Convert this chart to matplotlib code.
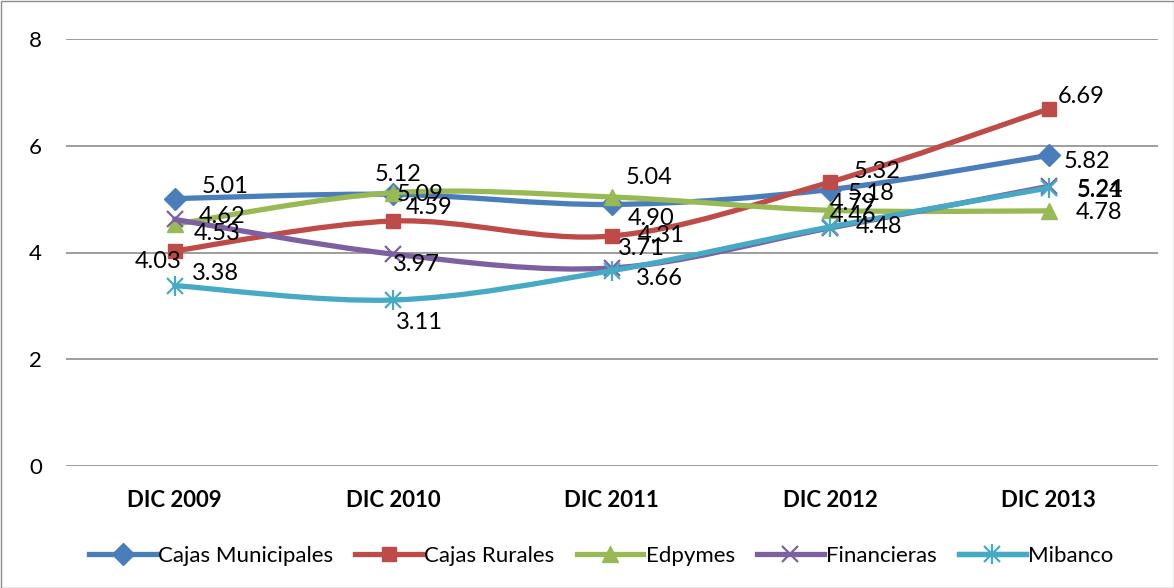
import matplotlib.pyplot as plt
import numpy as np
from matplotlib.path import Path
from matplotlib.patches import PathPatch, Rectangle
from matplotlib.lines import Line2D

# data
categories = ["DIC 2009", "DIC 2010", "DIC 2011", "DIC 2012", "DIC 2013"]
cajas_municipales = [5.01, 5.09, 4.90, 5.18, 5.82]
cajas_rurales = [4.03, 4.59, 4.31, 5.32, 6.69]
edpymes = [4.53, 5.12, 5.04, 4.79, 4.78]
financieras = [4.62, 3.97, 3.71, 4.46, 5.24]
mibanco = [3.38, 3.11, 3.66, 4.48, 5.21]

names = ["Cajas Municipales", "Cajas Rurales", "Edpymes", "Financieras", "Mibanco"]
series = [cajas_municipales, cajas_rurales, edpymes, financieras, mibanco]
colors = ["#4A7EBB", "#BE4B48", "#98B954", "#7D60A0", "#46AAC5"]
markers = ["D", "s", "^", "x", "x"]

# label offsets in pixels per series (dx to left edge of text, dy up)
label_offsets = [
    [(27, 12), (3, 0), (16, -14), (17, -4), (15, -6)],
    [(-40, -11), (13, 14), (26, 0), (23, 11), (9, 12)],
    [(19, -9), (-19, 18), (14, 19), (0, 7), (27, -2)],
    [(24, 3), (0, -10), (6, 19), (0, 12), (28, -3)],
    [(17, 12), (3, -22), (24, -8), (26, 0), (28, -3)],
]

plt.rcParams['font.family'] = ['Lato', 'DejaVu Sans']

fig = plt.figure(figsize=(11.74, 5.88), dpi=100)
ax = fig.add_axes([65.5 / 1174, 1 - 466 / 588, (1158 - 65.5) / 1174, (466 - 39) / 588])


def smooth_path(x, y):
    # Excel-like smoothed line: Catmull-Rom converted to cubic Bezier
    pts = np.column_stack([x, y]).astype(float)
    n = len(pts)
    verts = [pts[0]]
    codes = [Path.MOVETO]
    for i in range(n - 1):
        p0 = pts[i - 1] if i > 0 else pts[i]
        p1 = pts[i]
        p2 = pts[i + 1]
        p3 = pts[i + 2] if i + 2 < n else pts[i + 1]
        c1 = p1 + (p2 - p0) / 6.0
        c2 = p2 - (p3 - p1) / 6.0
        verts += [c1, c2, p2]
        codes += [Path.CURVE4] * 3
    return Path(verts, codes)


xs = np.arange(len(categories))
handles = []
for k, (name, vals, col, mk) in enumerate(zip(names, series, colors, markers)):
    z = 3 + k
    ax.add_patch(PathPatch(smooth_path(xs, vals), fill=False, edgecolor=col,
                           lw=3.8, zorder=z, capstyle='round', joinstyle='round'))
    if name == "Mibanco":
        ax.plot(xs, vals, linestyle='none', marker='x', ms=11, mew=1.6, color=col, zorder=z)
        ax.plot(xs, vals, linestyle='none', marker='|', ms=14, mew=1.6, color=col, zorder=z)
        h = (Line2D([], [], color=col, lw=3.8, marker='x', ms=11, mew=1.6),
             Line2D([], [], color=col, lw=3.8, marker='|', ms=14, mew=1.6))
    elif mk == 'x':
        ax.plot(xs, vals, linestyle='none', marker='x', ms=11, mew=1.6, color=col, zorder=z)
        h = Line2D([], [], color=col, lw=3.8, marker='x', ms=11, mew=1.6)
    else:
        ms = 11 if mk != 's' else 10.5
        ax.plot(xs, vals, linestyle='none', marker=mk, ms=ms, color=col, mec=col, zorder=z)
        h = Line2D([], [], color=col, lw=3.8, marker=mk, ms=ms, mec=col)
    handles.append(h)

    for i, v in enumerate(vals):
        dx, dy = label_offsets[k][i]
        ax.annotate(f"{v:.2f}", (xs[i], v), xytext=(dx, dy), textcoords='offset pixels',
                    ha='left', va='center', fontsize=17, color='black', zorder=20)

ax.set_xlim(-0.5, len(categories) - 0.5)
ax.set_ylim(0, 8)
ax.set_yticks([0, 2, 4, 6, 8])
ax.set_xticks(xs)
ax.set_xticklabels(categories, fontweight='bold', fontsize=16)
ax.tick_params(axis='x', length=0, pad=17)
ax.tick_params(axis='y', length=0, pad=17, labelsize=16)
ax.grid(axis='y', color='#8C8C8C', lw=1.2)
ax.set_axisbelow(True)
for s in ax.spines.values():
    s.set_visible(False)

fig.legend(handles, names, loc='center', bbox_to_anchor=(0.512, 1 - 556 / 588), ncol=5,
           frameon=False, fontsize=16, handlelength=3.0, handletextpad=0.1,
           columnspacing=1.0)

fig.add_artist(Rectangle((0.5 / 1174, 0.5 / 588), 1 - 1 / 1174, 1 - 1 / 588,
                         transform=fig.transFigure, fill=False, edgecolor='#8C8C8C', lw=1))

fig.savefig("out.png", dpi=100)
